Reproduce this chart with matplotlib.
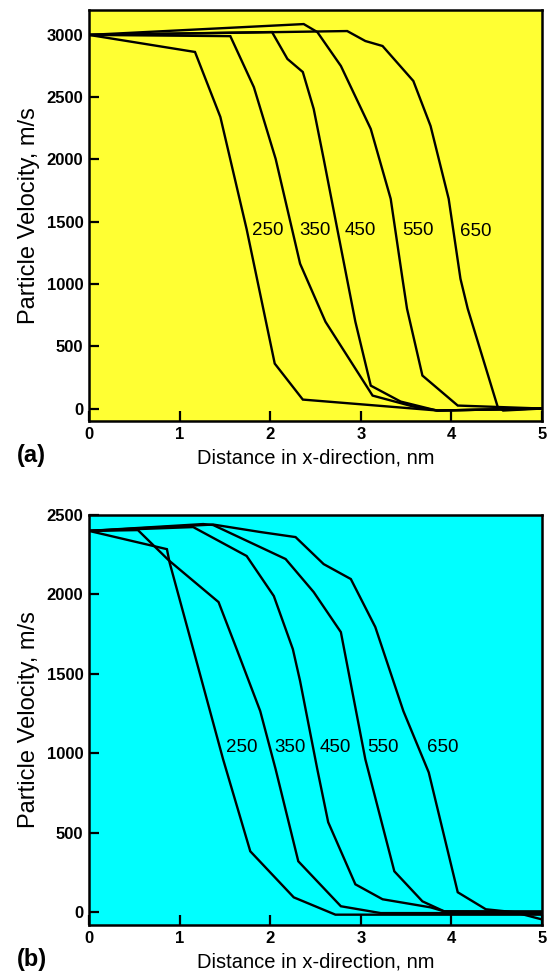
import matplotlib
matplotlib.use("Agg")
import matplotlib.pyplot as plt

plt.rcParams['font.family'] = ['Liberation Sans', 'DejaVu Sans']

# ---------------- data: panel (a) ----------------
labels = ["250", "350", "450", "550", "650"]

x250a = [0, 1.17, 1.45, 1.74, 2.05, 2.36, 3.85, 5.0]
y250a = [3000, 2863, 2341, 1440, 361, 72, -16, 0]
x350a = [0, 1.56, 1.82, 2.06, 2.33, 2.61, 3.13, 3.58, 3.85, 5.0]
y350a = [3000, 2990, 2580, 2005, 1163, 697, 104, 16, -16, 0]
x450a = [0, 2.02, 2.19, 2.36, 2.48, 2.59, 2.74, 2.94, 3.11, 3.44, 3.84, 5.0]
y450a = [3000, 3023, 2807, 2702, 2406, 2005, 1443, 697, 184, 56, -16, 0]
x550a = [0, 2.37, 2.52, 2.78, 3.11, 3.33, 3.46, 3.51, 3.68, 4.07, 5.0]
y550a = [3000, 3087, 3023, 2751, 2245, 1684, 1042, 802, 265, 24, 0]
x650a = [0, 2.85, 3.05, 3.24, 3.58, 3.77, 3.97, 4.10, 4.18, 4.51, 4.57, 5.0]
y650a = [3000, 3031, 2951, 2911, 2630, 2269, 1684, 1042, 802, 16, -16, 0]
label_xa = [1.97, 2.50, 3.00, 3.63, 4.27]
label_ya = [1430, 1430, 1430, 1430, 1420]

# ---------------- data: panel (b) ----------------
x250b = [0, 0.86, 0.89, 1.15, 1.48, 1.78, 2.26, 2.72, 5.0]
y250b = [2400, 2285, 2200, 1656, 963, 384, 94, -15, -15]
x350b = [0, 0.54, 0.88, 1.43, 1.63, 1.89, 2.06, 2.31, 2.78, 3.22, 5.0]
y350b = [2400, 2405, 2215, 1952, 1656, 1266, 900, 321, 38, -5, -5]
x450b = [0, 1.15, 1.74, 2.04, 2.25, 2.33, 2.52, 2.64, 2.94, 3.24, 3.77, 3.92, 5.0]
y450b = [2400, 2424, 2242, 1990, 1656, 1455, 900, 567, 176, 82, 31, 6, 6]
x550b = [0, 1.26, 1.37, 2.17, 2.48, 2.78, 3.05, 3.37, 3.68, 3.92, 5.0]
y550b = [2400, 2443, 2437, 2223, 2015, 1763, 963, 258, 69, 6, 0]
x650b = [0, 1.37, 1.89, 2.28, 2.59, 2.89, 3.16, 3.47, 3.75, 4.07, 4.38, 4.70, 5.0]
y650b = [2400, 2440, 2393, 2361, 2191, 2097, 1795, 1266, 880, 126, 19, 0, -45]
label_xb = [1.69, 2.22, 2.72, 3.25, 3.90]
label_yb = [1040, 1040, 1040, 1040, 1040]

xticks = [0, 1, 2, 3, 4, 5]
yticks_a = [0, 500, 1000, 1500, 2000, 2500, 3000]
yticks_b = [0, 500, 1000, 1500, 2000, 2500]

fig = plt.figure(figsize=(5.48, 9.72), dpi=100)
W, H = 548.0, 972.0
ax1 = fig.add_axes([89 / W, 1 - 421 / H, (542 - 89) / W, (421 - 10) / H])
ax2 = fig.add_axes([89 / W, 1 - 925 / H, (542 - 89) / W, (925 - 515) / H])


def style(ax, bg, yticks, ylim, tag):
    ax.set_facecolor(bg)
    ax.set_xlim(0, 5)
    ax.set_ylim(*ylim)
    ax.set_xticks(xticks)
    ax.set_yticks(yticks)
    ax.tick_params(direction='in', length=7, width=1.6, top=False, right=False,
                   labelsize=12, pad=4)
    for lab in ax.get_xticklabels() + ax.get_yticklabels():
        lab.set_fontweight('bold')
    for s in ax.spines.values():
        s.set_linewidth(1.8)
    ax.set_xlabel("Distance in x-direction, nm", fontsize=14.5, labelpad=5)
    ax.set_ylabel("Particle Velocity, m/s", fontsize=17, labelpad=5)
    ax.text(-0.16, -0.085, tag, transform=ax.transAxes, fontsize=17,
            fontweight='bold', ha='left', va='center')


style(ax1, '#ffff33', yticks_a, (-100, 3200), "(a)")
style(ax2, '#00ffff', yticks_b, (-80, 2500), "(b)")

for xs, ys in [(x250a, y250a), (x350a, y350a), (x450a, y450a), (x550a, y550a), (x650a, y650a)]:
    ax1.plot(xs, ys, color='black', lw=1.7, solid_joinstyle='miter')
for xs, ys in [(x250b, y250b), (x350b, y350b), (x450b, y450b), (x550b, y550b), (x650b, y650b)]:
    ax2.plot(xs, ys, color='black', lw=1.7, solid_joinstyle='miter')

for lab, lx, ly in zip(labels, label_xa, label_ya):
    ax1.text(lx, ly, lab, fontsize=13.5, ha='center', va='center')
for lab, lx, ly in zip(labels, label_xb, label_yb):
    ax2.text(lx, ly, lab, fontsize=13.5, ha='center', va='center')

fig.savefig("out.png", dpi=100)
